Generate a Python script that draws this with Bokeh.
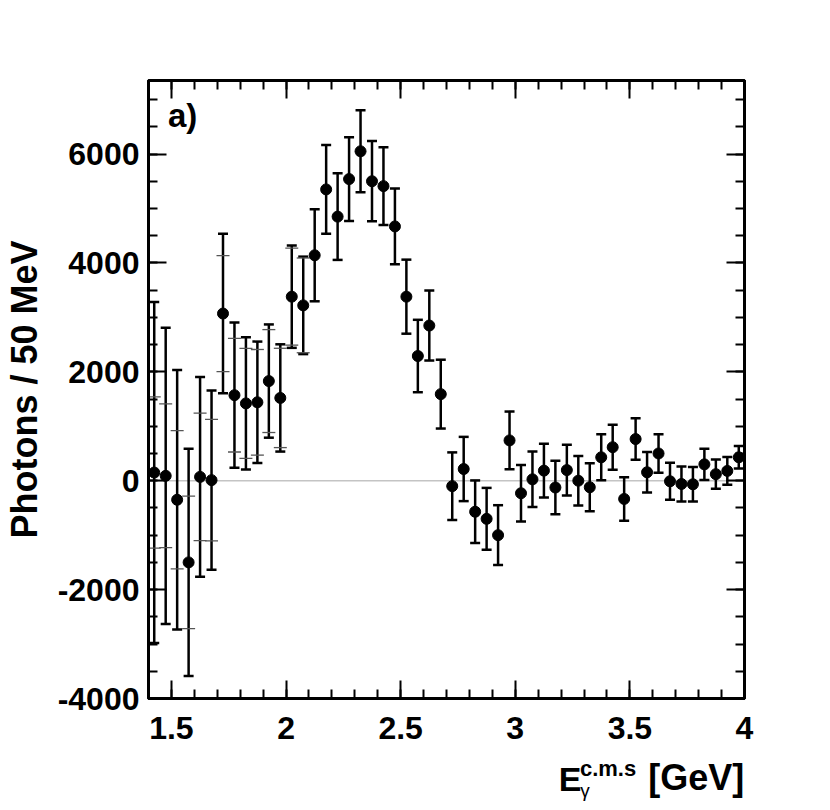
from bokeh.plotting import figure
from bokeh.models import (ColumnDataSource, Whisker, TeeHead, Span, Label, LinearAxis,
                          FixedTicker, NumeralTickFormatter, Range1d)
from bokeh.layouts import column
from bokeh.core.properties import value
from bokeh.embed import file_html
from bokeh.resources import INLINE

# ---- data (bin centres in GeV, photons per 50 MeV) ----
energy = [1.425, 1.475, 1.525, 1.575, 1.625, 1.675, 1.725, 1.775, 1.825, 1.875,
          1.925, 1.975, 2.025, 2.075, 2.125, 2.175, 2.225, 2.275, 2.325, 2.375,
          2.425, 2.475, 2.525, 2.575, 2.625, 2.675, 2.725, 2.775, 2.825, 2.875,
          2.925, 2.975, 3.025, 3.075, 3.125, 3.175, 3.225, 3.275, 3.325, 3.375,
          3.425, 3.475, 3.525, 3.575, 3.625, 3.675, 3.725, 3.775, 3.825, 3.875,
          3.925, 3.975]
photons = [150, 90, -350, -1500, 70, 10, 3070, 1570, 1420, 1440,
           1830, 1520, 3380, 3220, 4140, 5350, 4850, 5540, 6050, 5500,
           5410, 4670, 3380, 2290, 2850, 1590, -100, 215, -570, -700,
           -1000, 740, -230, 25, 185, -125, 195, 0, -120, 430,
           615, -335, 765, 155, 500, -10, -60, -65, 300, 120,
           180, 430]
err_total = [3130, 2720, 2385, 2085, 1835, 1645, 1465, 1334, 1215, 1115,
             1040, 985, 940, 895, 845, 815, 795, 770, 752, 737,
             712, 695, 680, 665, 643, 632, 620, 590, 575, 568,
             550, 530, 520, 510, 495, 490, 465, 455, 440, 422,
             413, 400, 382, 373, 352, 340, 320, 318, 285, 268,
             255, 208]
# statistical-only errors (inner thin ticks), visible for the first bins
err_stat = [1390, 1320, 1270, 1215, 1170, 1115, 1065, 1043, 1010, 970,
            945, 912, 890, 870]

x_ticks = [1.5, 2.0, 2.5, 3.0, 3.5, 4.0]
x_minor = [1.4, 1.5, 1.6, 1.7, 1.8, 1.9, 2.0, 2.1, 2.2, 2.3, 2.4, 2.5, 2.6, 2.7,
           2.8, 2.9, 3.0, 3.1, 3.2, 3.3, 3.4, 3.5, 3.6, 3.7, 3.8, 3.9, 4.0]
y_ticks = [-4000, -2000, 0, 2000, 4000, 6000]
y_minor = [-4000, -3500, -3000, -2500, -2000, -1500, -1000, -500, 0, 500, 1000,
           1500, 2000, 2500, 3000, 3500, 4000, 4500, 5000, 5500, 6000, 6500, 7000]

FONT = "Liberation Sans"
LEFT, RIGHT, WIDTH = 145, 70, 814

p = figure(width=WIDTH, height=754, x_range=Range1d(1.4, 4.0), y_range=Range1d(-4000, 7350),
           output_backend="svg", toolbar_location=None,
           min_border_left=LEFT, min_border_right=RIGHT, min_border_top=80, min_border_bottom=56)
p.grid.visible = False
p.outline_line_color = "black"
p.outline_line_width = 3
p.background_fill_color = "white"
p.border_fill_color = "white"


def style_axis(ax, ticks, minor, show_labels):
    ax.ticker = FixedTicker(ticks=ticks, minor_ticks=minor)
    ax.major_tick_in = 18
    ax.major_tick_out = 0
    ax.minor_tick_in = 9
    ax.minor_tick_out = 0
    ax.major_tick_line_width = 2
    ax.minor_tick_line_width = 2
    ax.axis_line_width = 3
    ax.major_tick_line_color = "black"
    ax.minor_tick_line_color = "black"
    ax.axis_line_color = "black"
    if show_labels:
        ax.major_label_text_font = FONT
        ax.major_label_text_font_style = "bold"
        ax.major_label_text_font_size = "32px"
        ax.major_label_text_color = "black"
    else:
        ax.major_label_text_color = None
        ax.major_label_standoff = 0


xa = p.xaxis[0]
style_axis(xa, x_ticks, x_minor, True)
xa.formatter = NumeralTickFormatter(format="0.[0]")
xa.major_label_standoff = 18

ya = p.yaxis[0]
style_axis(ya, y_ticks, y_minor, True)
ya.formatter = NumeralTickFormatter(format="0")
ya.major_label_standoff = 9
ya.axis_label = "Photons / 50 MeV"
ya.axis_label_text_font = FONT
ya.axis_label_text_font_style = "bold"
ya.axis_label_text_font_size = "36px"
ya.axis_label_text_color = "black"
ya.axis_label_standoff = 10

top = LinearAxis()
style_axis(top, x_ticks, x_minor, False)
p.add_layout(top, "above")
right = LinearAxis()
style_axis(right, y_ticks, y_minor, False)
p.add_layout(right, "right")

# zero line
p.add_layout(Span(location=0, dimension="width", line_color="#c4c4c4",
                  line_width=1.5, level="underlay"))

src = ColumnDataSource(dict(
    x=energy, y=photons,
    upper=[v + e for v, e in zip(photons, err_total)],
    lower=[v - e for v, e in zip(photons, err_total)],
))
n_stat = len(err_stat)
src_stat = ColumnDataSource(dict(
    x=energy[:n_stat],
    upper=[v + e for v, e in zip(photons[:n_stat], err_stat)],
    lower=[v - e for v, e in zip(photons[:n_stat], err_stat)],
))

p.add_layout(Whisker(source=src, base="x", upper="upper", lower="lower",
                     line_color="black", line_width=2.5,
                     upper_head=TeeHead(size=10, line_width=2.5, line_color="black"),
                     lower_head=TeeHead(size=10, line_width=2.5, line_color="black")))
p.add_layout(Whisker(source=src_stat, base="x", upper="upper", lower="lower",
                     line_alpha=0,
                     upper_head=TeeHead(size=13, line_width=1.3, line_color="#555555"),
                     lower_head=TeeHead(size=13, line_width=1.3, line_color="#555555")))
p.scatter("x", "y", source=src, size=11, color="black")

# panel label
p.add_layout(Label(x=1.485, y=6700, text="a)", text_font=FONT, text_font_style="bold",
                   text_font_size="33px", text_color="black", text_baseline="alphabetic"))

# ---- x-axis title strip: E_gamma^{c.m.s} [GeV] ----
STRIP_H = 52
strip = figure(width=WIDTH, height=STRIP_H, x_range=p.x_range, y_range=Range1d(0, STRIP_H),
               output_backend="svg", toolbar_location=None, title=None,
               x_axis_location=None, y_axis_location=None,
               min_border_left=LEFT, min_border_right=RIGHT, min_border_top=0, min_border_bottom=0)
strip.grid.visible = False
strip.outline_line_color = None
strip.background_fill_color = "white"
strip.border_fill_color = "white"

title_parts = dict(
    x=[3.19, 3.282, 3.284, 3.999],
    y=[28, 38, 16, 29],
    text=["E", "c.m.s", "γ", "[GeV]"],
    size=["34px", "22px", "19px", "36px"],
    style=["bold", "bold", "normal", "bold"],
    align=["left", "left", "left", "right"],
)
strip.text(x="x", y="y", text="text", source=ColumnDataSource(title_parts),
           text_font=value(FONT), text_font_size="size", text_font_style="style",
           text_align="align", text_baseline="alphabetic", text_color="black")

layout = column(p, strip, spacing=0)
open("out.html", "w").write(file_html(layout, INLINE))
